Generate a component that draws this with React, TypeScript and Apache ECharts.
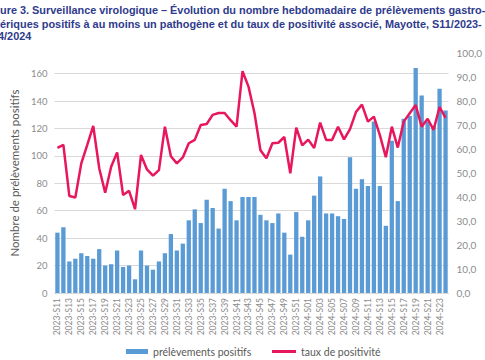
import React, { useEffect, useRef } from "react";
import * as echarts from "echarts";

// Weekly categories: 2023-S11 … 2024-S24
const categories: string[] = [];
for (let w = 11; w <= 52; w++) categories.push(`2023-S${String(w).padStart(2, "0")}`);
for (let w = 1; w <= 24; w++) categories.push(`2024-S${String(w).padStart(2, "0")}`);

// Number of positive samples (left axis)
const positiveSamples2023 = [
  44, 48, 23, 25, 29, 27, 25, 32, 20, 21,
  31, 19, 20, 10, 31, 20, 17, 23, 29, 43,
  31, 36, 53, 61, 51, 68, 62, 47, 76, 67,
  53, 70, 70, 70, 57, 53, 51, 58, 44, 28,
  59, 41,
];
const positiveSamples2024 = [
  53, 71, 85, 58, 58, 56, 54, 99, 76, 83,
  78, 125, 78, 49, 111, 67, 127, 129, 164, 144,
  125, 122, 149, 133,
];

// Positivity rate % (right axis)
const positivity2023 = [
  60.5, 61.7, 40.4, 39.8, 54, 61.7, 69.6, 52, 41.8, 52.6,
  58.6, 40.8, 42.6, 34.9, 57.5, 51.5, 48.9, 51.2, 69.3, 57,
  54, 56.5, 62.4, 63.8, 70, 70.4, 74.2, 75, 75, 72,
  69.3, 92.4, 86, 75, 59.5, 56.1, 62.4, 62.6, 65, 49.9,
  68.9, 61.5,
];
const positivity2024 = [
  63.9, 60.4, 71, 63.8, 63.8, 69.3, 64, 68.3, 75.4, 78.5,
  71.4, 73.5, 65.8, 56.6, 69.3, 60.6, 71.4, 74.9, 78.3, 69.3,
  72.6, 68, 77.5, 73,
];

const leftTicks = [0, 20, 40, 60, 80, 100, 120, 140, 160];

const titleLines = [
  { text: "Figure 3. Surveillance virologique – Évolution du nombre hebdomadaire de prélèvements gastro-", hidden: "Fig" },
  { text: "entériques positifs à au moins un pathogène et du taux de positivité associé, Mayotte, S11/2023-", hidden: "ent" },
  { text: "S24/2024", hidden: "S2" },
];

const seriesNames = ["prélèvements positifs", "taux de positivité"];

export default function App() {
  const ref = useRef<HTMLDivElement>(null);

  useEffect(() => {
    if (!ref.current) return;
    const chart = echarts.init(ref.current, undefined, { renderer: "svg" });

    const titleFont = 'bold 10.9px "Liberation Sans", Arial, sans-serif';
    const ctx = document.createElement("canvas").getContext("2d");
    const measure = (s: string) => {
      if (!ctx) return s.length * 6;
      ctx.font = titleFont;
      return ctx.measureText(s).width;
    };
    const titleYs = [10, 23.5, 36];

    const bars = [...positiveSamples2023, ...positiveSamples2024];
    const rate = [...positivity2023, ...positivity2024];

    chart.setOption({
      animation: false,
      textStyle: { fontFamily: "Lato, 'Open Sans', sans-serif" },
      graphic: titleLines.map((l, i) => ({
        type: "text",
        x: -measure(l.hidden) - (i === 2 ? 2 : 0),
        y: titleYs[i],
        style: {
          text: l.text,
          font: titleFont,
          fill: "#2f3b8c",
          textVerticalAlign: "middle",
          textAlign: "left",
        },
      })),
      grid: { left: 40, right: 22, top: 53, bottom: 67 },
      legend: [
        {
          data: [{ name: seriesNames[0], icon: "rect" }],
          left: 121,
          top: 341,
          itemWidth: 22,
          itemHeight: 5,
          itemGap: 4,
          textStyle: { color: "#595959", fontSize: 10.5, fontFamily: "Lato" },
        },
        {
          data: [{ name: seriesNames[1], icon: "rect" }],
          left: 267,
          top: 341,
          itemWidth: 24,
          itemHeight: 3,
          textStyle: { color: "#595959", fontSize: 10.5, fontFamily: "Lato" },
        },
      ],
      xAxis: {
        type: "category",
        data: categories,
        axisTick: { show: false },
        axisLine: { lineStyle: { color: "#d9d9d9" } },
        axisLabel: {
          rotate: 90,
          interval: 1,
          fontSize: 8.5,
          color: "#8c8c8c",
          margin: 5,
        },
      },
      yAxis: [
        {
          type: "value",
          min: 0,
          max: 175,
          interval: 20,
          name: "Nombre de prélèvements positifs",
          nameLocation: "middle",
          nameRotate: 90,
          nameGap: 26,
          nameTextStyle: { color: "#595959", fontSize: 11.5 },
          axisLine: { show: false },
          axisTick: { show: false },
          axisLabel: {
            color: "#8c8c8c",
            fontSize: 9.5,
            margin: 7,
            formatter: (v: number) => (leftTicks.includes(v) ? String(v) : ""),
          },
          splitLine: { show: true, showMaxLine: false, lineStyle: { color: "#d9d9d9", width: 1 } },
        },
        {
          type: "value",
          position: "right",
          min: 0,
          max: 100,
          interval: 10,
          axisLine: { show: false },
          axisTick: { show: false },
          splitLine: { show: false },
          axisLabel: {
            color: "#8c8c8c",
            fontSize: 10,
            margin: 8,
            formatter: (v: number) => v.toFixed(1).replace(".", ","),
          },
        },
      ],
      series: [
        {
          name: seriesNames[0],
          type: "bar",
          data: bars,
          barCategoryGap: "28%",
          itemStyle: { color: "#5b9bd5" },
        },
        {
          name: seriesNames[1],
          type: "line",
          yAxisIndex: 1,
          data: rate,
          symbol: "none",
          lineStyle: { color: "#e8175d", width: 2.5 },
          itemStyle: { color: "#e8175d" },
        },
      ],
    });

    return () => chart.dispose();
  }, []);

  return <div ref={ref} style={{ width: 485, height: 360, position: "absolute", left: 0, top: 0 }} />;
}
